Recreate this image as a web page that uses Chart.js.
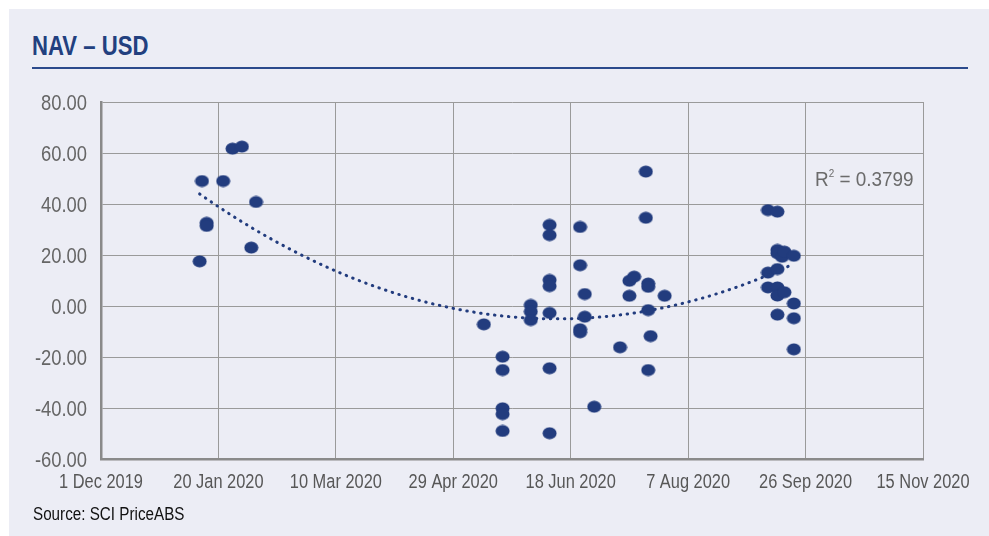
<!DOCTYPE html>
<html>
<head>
<meta charset="utf-8">
<script src="https://cdn.jsdelivr.net/npm/chart.js@4/dist/chart.umd.min.js"></script>
<style>
  html, body { margin: 0; padding: 0; background: #ffffff; }
  body { width: 989px; height: 536px; position: relative; overflow: hidden;
         font-family: 'Liberation Sans', Arial, sans-serif; }
  #panel { position: absolute; left: 9px; top: 9px; width: 980px; height: 527px; background: #ECEDF5; }
  .narrow { position: absolute; line-height: 1; white-space: nowrap; transform-origin: 0 0; }
  #title { left: 32px; top: 32px; font-size: 28px; font-weight: bold; color: #22407F; transform: scaleX(0.79); }
  #rule { position: absolute; left: 32px; top: 67px; width: 936px; height: 2px; background: #2B4A8C; }
  #source { left: 33px; top: 506px; font-size: 17.5px; color: #111; transform: scaleX(0.87); }
  #r2 { left: 815px; top: 168px; font-size: 21px; color: #6b6b6b; transform: scaleX(0.9); }
  #r2 sup { font-size: 11px; vertical-align: 9px; line-height: 0; }
  #wrap { position: absolute; left: 0; top: 0; width: 989px; height: 536px; }
</style>
</head>
<body>
<div id="panel"></div>
<div id="title" class="narrow">NAV – USD</div>
<div id="rule"></div>
<div id="wrap"><canvas id="c" width="989" height="536"></canvas></div>
<div id="r2" class="narrow">R<sup>2</sup> = 0.3799</div>
<div id="source" class="narrow">Source: SCI PriceABS</div>
<script>
// Observation dates and NAV values (USD)
const navDates = [
  '2020-01-12', '2020-01-13', '2020-01-15', '2020-01-15', '2020-01-22',
  '2020-01-26', '2020-01-30', '2020-02-03', '2020-02-05',
  '2020-05-12',
  '2020-05-20', '2020-05-20', '2020-05-20', '2020-05-20', '2020-05-20',
  '2020-06-01', '2020-06-01', '2020-06-01',
  '2020-06-09', '2020-06-09', '2020-06-09', '2020-06-09', '2020-06-09', '2020-06-09', '2020-06-09',
  '2020-06-22', '2020-06-22', '2020-06-22', '2020-06-22',
  '2020-06-24', '2020-06-24',
  '2020-06-28', '2020-07-09',
  '2020-07-13', '2020-07-13', '2020-07-15',
  '2020-07-20', '2020-07-20',
  '2020-07-21', '2020-07-21', '2020-07-21', '2020-07-21',
  '2020-07-22', '2020-07-28',
  '2020-09-10', '2020-09-10', '2020-09-10',
  '2020-09-14', '2020-09-14', '2020-09-14', '2020-09-14', '2020-09-14', '2020-09-14', '2020-09-14',
  '2020-09-16', '2020-09-17', '2020-09-17',
  '2020-09-21', '2020-09-21', '2020-09-21', '2020-09-21'
];
const navValues = [
  17.5, 49.0, 32.6, 31.4, 49.0,
  61.7, 62.5, 22.9, 40.8,
  -7.2,
  -19.9, -25.1, -40.1, -42.4, -49.0,
  0.4, -2.2, -5.5,
  31.8, 27.8, 10.2, 7.8, -2.7, -24.4, -49.9,
  31.0, 16.0, -9.1, -10.3,
  4.7, -4.2,
  -39.5, -16.2,
  9.9, 4.0, 11.5,
  52.7, 34.6,
  8.8, 7.5, -1.6, -25.1,
  -11.8, 4.0,
  37.6, 13.1, 7.3,
  37.0, 22.0, 20.7, 14.5, 7.3, 4.1, -3.4,
  19.3, 21.3, 5.4,
  19.7, 1.0, -4.8, -17.0
];
// Axis ticks
const xTickDates = ['1 Dec 2019', '20 Jan 2020', '10 Mar 2020', '29 Apr 2020', '18 Jun 2020', '7 Aug 2020', '26 Sep 2020', '15 Nov 2020'];
const yTicks = [-60, -40, -20, 0, 20, 40, 60, 80];

const DAY = 86400000;
const origin = Date.UTC(2019, 11, 1);
const toDay = s => { const [y, m, d] = s.split('-').map(Number); return (Date.UTC(y, m - 1, d) - origin) / DAY; };

const pts = navDates.map((d, i) => ({ x: toDay(d), y: navValues[i] }));

// Second-order polynomial trendline (least squares)
function quadFit(p) {
  let n = p.length, sx = 0, sx2 = 0, sx3 = 0, sx4 = 0, sy = 0, sxy = 0, sx2y = 0;
  p.forEach(({ x, y }) => {
    sx += x; sx2 += x * x; sx3 += x * x * x; sx4 += x * x * x * x;
    sy += y; sxy += x * y; sx2y += x * x * y;
  });
  const A = [[n, sx, sx2, sy], [sx, sx2, sx3, sxy], [sx2, sx3, sx4, sx2y]];
  for (let i = 0; i < 3; i++) {
    for (let k = i + 1; k < 3; k++) {
      const f = A[k][i] / A[i][i];
      for (let j = i; j < 4; j++) A[k][j] -= f * A[i][j];
    }
  }
  const c = [0, 0, 0];
  for (let i = 2; i >= 0; i--) {
    let s = A[i][3];
    for (let j = i + 1; j < 3; j++) s -= A[i][j] * c[j];
    c[i] = s / A[i][i];
  }
  return c;
}
const coef = quadFit(pts);
const xMin = Math.min(...pts.map(p => p.x)), xMax = Math.max(...pts.map(p => p.x));
const trend = [];
for (let x = xMin; x <= xMax; x += 1) trend.push({ x, y: coef[0] + coef[1] * x + coef[2] * x * x });

// Slightly oval marker
const NAVY = '#223C7E';
const dot = document.createElement('canvas');
dot.width = 15; dot.height = 13;
(() => { const g = dot.getContext('2d'); g.fillStyle = NAVY; g.beginPath(); g.ellipse(7.5, 6.5, 7, 6, 0, 0, Math.PI * 2); g.fill(); })();

const FONT = "'Liberation Sans', Arial, sans-serif";

// Condensed tick labels, placed at the scales' own tick positions
const narrowTicks = {
  id: 'narrowTicks',
  afterDraw(chart) {
    const ctx = chart.ctx;
    const xs = chart.scales.x, ys = chart.scales.y;
    ctx.save();
    ctx.fillStyle = '#575757';
    ctx.font = '20.5px ' + FONT;
    ctx.textAlign = 'center';
    ctx.textBaseline = 'alphabetic';
    xs.ticks.forEach((t, i) => {
      const px = xs.getPixelForValue(t.value);
      ctx.save();
      ctx.translate(px, 487.5);
      ctx.scale(0.8, 1);
      ctx.fillText(xTickDates[i], 0, 0);
      ctx.restore();
    });
    ctx.fillStyle = '#666666';
    ctx.font = '21.5px ' + FONT;
    ctx.textAlign = 'right';
    ys.ticks.forEach(t => {
      const py = ys.getPixelForValue(t.value);
      ctx.save();
      ctx.translate(ys.right - 14, py + 7.6);
      ctx.scale(0.855, 1);
      ctx.fillText(t.value.toFixed(2), 0, 0);
      ctx.restore();
    });
    ctx.restore();
  }
};

new Chart(document.getElementById('c'), {
  type: 'scatter',
  data: {
    datasets: [
      { data: pts, pointStyle: dot, pointRadius: 7, backgroundColor: NAVY, borderColor: NAVY, order: 1 },
      { type: 'line', data: trend, borderColor: NAVY, borderWidth: 3, borderDash: [0.5, 6.5], borderCapStyle: 'round',
        pointRadius: 0, fill: false, tension: 0, order: 0 }
    ]
  },
  plugins: [narrowTicks],
  options: {
    responsive: false,
    animation: false,
    layout: { padding: { left: 10, top: 102, right: 66, bottom: 37 } },
    plugins: { legend: { display: false }, tooltip: { enabled: false } },
    scales: {
      x: {
        type: 'linear', min: 0, max: 350,
        afterBuildTicks: s => { s.ticks = xTickDates.map((_, i) => ({ value: i * 50 })); },
        afterFit: s => { s.height = 40; },
        grid: { color: '#9a9a9a', lineWidth: 1, drawTicks: false },
        border: { color: '#8a8a8a', width: 2.5 },
        ticks: { display: false, callback: (v) => xTickDates[Math.round(v / 50)] }
      },
      y: {
        min: -60, max: 80,
        afterBuildTicks: s => { s.ticks = yTicks.map(v => ({ value: v })); },
        afterFit: s => { s.width = 91; },
        grid: { color: '#9a9a9a', lineWidth: 1, drawTicks: false },
        border: { color: '#8a8a8a', width: 2.5 },
        ticks: { display: false, callback: v => v.toFixed(2) }
      }
    }
  }
});
</script>
</body>
</html>
